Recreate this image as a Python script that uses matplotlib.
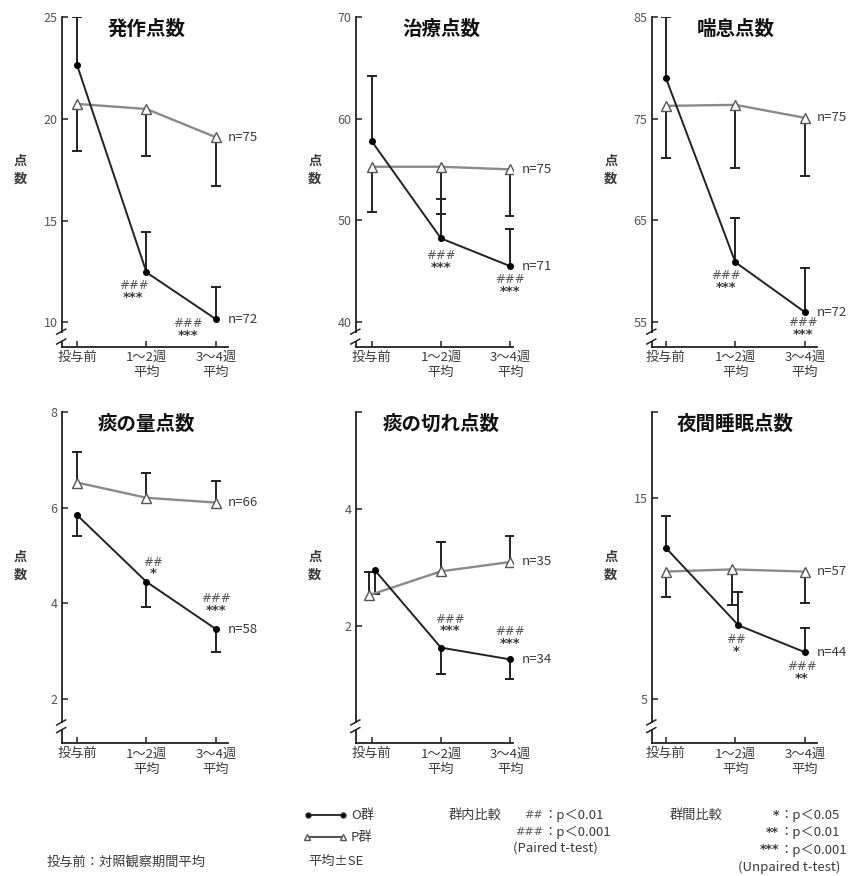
import matplotlib
matplotlib.use("Agg")
import matplotlib.pyplot as plt
from matplotlib.lines import Line2D

plt.rcParams['font.family'] = ['Noto Sans CJK JP', 'DejaVu Sans']

W, H = 855, 876

# --- data ---
categories = ["投与前", "1～2週\n平均", "3～4週\n平均"]
titles = ["発作点数", "治療点数", "喘息点数", "痰の量点数", "痰の切れ点数", "夜間睡眠点数"]

hossa_o = [22.66, 12.46, 10.16]
hossa_o_se = [2.34, 1.97, 1.59]
hossa_p = [20.74, 20.49, 19.10]
hossa_p_se = [2.30, 2.33, 2.41]

chiryo_o = [57.78, 48.20, 45.46]
chiryo_o_se = [6.47, 3.92, 3.66]
chiryo_p = [55.26, 55.26, 55.00]
chiryo_p_se = [4.51, 4.67, 4.64]

zensoku_o = [79.05, 60.85, 55.92]
zensoku_o_se = [5.95, 4.33, 4.40]
zensoku_p = [76.26, 76.36, 75.08]
zensoku_p_se = [5.13, 6.18, 5.69]

tan_ryo_o = [5.85, 4.45, 3.46]
tan_ryo_o_se = [0.45, 0.53, 0.47]
tan_ryo_p = [6.53, 6.21, 6.11]
tan_ryo_p_se = [0.63, 0.51, 0.45]

tan_kire_o = [2.95, 1.63, 1.43]
tan_kire_o_se = [0.40, 0.45, 0.34]
tan_kire_p = [2.52, 2.93, 3.09]
tan_kire_p_se = [0.40, 0.50, 0.44]

yakan_o = [12.54, 8.67, 7.33]
yakan_o_se = [1.58, 1.65, 1.19]
yakan_p = [11.35, 11.46, 11.35]
yakan_p_se = [1.28, 1.78, 1.58]

n_o = [72, 71, 72, 58, 34, 44]
n_p = [75, 75, 75, 66, 35, 57]

sig_within = [["", "###", "###"], ["", "###", "###"], ["", "###", "###"],
              ["", "##", "###"], ["", "###", "###"], ["", "##", "###"]]
sig_between = [["", "***", "***"], ["", "***", "***"], ["", "***", "***"],
               ["", "*", "***"], ["", "***", "***"], ["", "*", "**"]]

yticks = [[10, 15, 20, 25], [40, 50, 60, 70], [55, 65, 75, 85],
          [2, 4, 6, 8], [2, 4], [5, 15]]

series_o = [hossa_o, chiryo_o, zensoku_o, tan_ryo_o, tan_kire_o, yakan_o]
series_o_se = [hossa_o_se, chiryo_o_se, zensoku_o_se, tan_ryo_o_se, tan_kire_o_se, yakan_o_se]
series_p = [hossa_p, chiryo_p, zensoku_p, tan_ryo_p, tan_kire_p, yakan_p]
series_p_se = [hossa_p_se, chiryo_p_se, zensoku_p_se, tan_ryo_p_se, tan_kire_p_se, yakan_p_se]

# --- layout (pixels of the 855x876 canvas) ---
col_left = [61.7, 355.8, 651.8]
col_width = [166.1, 157.1, 165.0]
col_xlim = [(-0.22, 2.17), (-0.23, 2.04), (-0.20, 2.17)]
row_top = [17.2, 412.3]
row_bottom = [346.5, 743.3]
ylims = [(8.82, 25), (37.54, 70), (52.54, 85), (1.07, 8), (0, 5.64), (2.79, 19.29)]
breaks = [(0.045, 0.015), (0.063, 0.04)]
o_up = [True, True, True, False, False, True]
dodge = [[0, 0, 0], [0, 0, 0], [0, 0, 0], [0, 0, 0], [0.045, 0, 0], [0, 0.045, 0]]
sig_offsets = [
    [None, (-13, -19), (-28, -10)],
    [None, (0, -23), (0, -19)],
    [None, (-9, -19), (-2, -16)],
    [None, (7, 14), (0, 25)],
    [None, (9, 23), (0, 22)],
    [None, (-2, -20), (-3, -20)],
]

DARK = "#222222"
GREY = "#8a8a8a"
TXT = "#3a3a3a"


def fx(x):
    return x / W


def fy(y):
    return 1 - y / H


def one_sided_bars(ax, xs, ys, ses, up):
    for x, y, s in zip(xs, ys, ses):
        end = y + s if up else y - s
        ax.plot([x, x], [y, end], color=DARK, lw=1.4, zorder=2)
        ax.plot([x], [end], marker="_", ms=7, mew=1.4, color=DARK, zorder=2)


fig = plt.figure(figsize=(W / 100, H / 100), dpi=100)

for i in range(6):
    r, c = divmod(i, 3)
    top, bot = row_top[r], row_bottom[r]
    rect = [fx(col_left[c]), fy(bot), col_width[c] / W, (bot - top) / H]
    ax = fig.add_axes(rect)
    ax.set_xlim(*col_xlim[c])
    ax.set_ylim(*ylims[i])

    xs = range(len(categories))
    xo = [x + d for x, d in zip(xs, dodge[i])]
    xp = [x - d for x, d in zip(xs, dodge[i])]

    # error bars first, lines and markers on top
    one_sided_bars(ax, xo, series_o[i], series_o_se[i], o_up[i])
    one_sided_bars(ax, xp, series_p[i], series_p_se[i], not o_up[i])
    ax.plot(xp, series_p[i], color=GREY, lw=1.7, zorder=3)
    ax.plot(xp, series_p[i], ls="none", marker="^", ms=6.5, mfc="white",
            mec="#555555", mew=1.0, zorder=4)
    ax.plot(xo, series_o[i], color=DARK, lw=1.4, marker="o", ms=4,
            mfc="black", mec="black", zorder=5)

    # n labels
    ax.annotate(f"n={n_p[i]}", xy=(2, series_p[i][2]), xytext=(12, 0),
                textcoords="offset pixels", ha="left", va="center",
                fontsize=9.5, color=TXT)
    ax.annotate(f"n={n_o[i]}", xy=(2, series_o[i][2]), xytext=(12, 0),
                textcoords="offset pixels", ha="left", va="center",
                fontsize=9.5, color=TXT)

    # significance marks
    for k in range(3):
        if not sig_within[i][k]:
            continue
        dx, dy = sig_offsets[i][k]
        ax.annotate(sig_within[i][k], xy=(xo[k], series_o[i][k]),
                    xytext=(dx, dy + 5.5), textcoords="offset pixels",
                    ha="center", va="center", fontsize=8.5, color="#555555",
                    family="DejaVu Sans", style="italic")
        ax.annotate(sig_between[i][k], xy=(xo[k], series_o[i][k]),
                    xytext=(dx, dy - 6), textcoords="offset pixels",
                    ha="center", va="center", fontsize=9.5, color="#3a3a3a",
                    family="DejaVu Sans", weight="bold")

    # axes styling: bottom spine + broken left spine
    for s in ["top", "right", "left"]:
        ax.spines[s].set_visible(False)
    ax.spines["bottom"].set_linewidth(1.3)
    ax.spines["bottom"].set_color(DARK)
    hi, lo = breaks[r]
    ax.plot([0, 0], [hi, 1], transform=ax.transAxes, color=DARK, lw=1.3, clip_on=False)
    ax.plot([0, 0], [0, lo], transform=ax.transAxes, color=DARK, lw=1.3, clip_on=False)
    wpx, hpx = col_width[c], bot - top
    for yb in (hi, lo):
        ax.plot([-5 / wpx, 4 / wpx], [yb - 2.5 / hpx, yb + 2.5 / hpx],
                transform=ax.transAxes, color=DARK, lw=1.1, clip_on=False)

    ticks = list(yticks[i])
    labels = [str(t) for t in ticks]
    if ylims[i][1] > ticks[-1]:
        ticks.append(ylims[i][1])
        labels.append("")
    ax.set_yticks(ticks)
    ax.set_yticklabels(labels)
    ax.set_xticks(list(xs))
    ax.set_xticklabels(categories, linespacing=1.25)
    ax.tick_params(direction="in", length=4, width=1.1, color=DARK)
    ax.tick_params(axis="y", labelsize=9, labelcolor="#555555", pad=3)
    ax.tick_params(axis="x", labelsize=9.5, labelcolor=TXT, pad=3)

    ax.text(1, 0.965, titles[i], transform=ax.get_xaxis_transform(),
            ha="center", va="center", fontsize=14, weight="bold", color="#111111")
    ax.annotate("点\n数", xy=(0, 0.536), xycoords="axes fraction",
                xytext=(-41, 0), textcoords="offset pixels", ha="center",
                va="center", fontsize=9.5, weight="bold", color=TXT, linespacing=1.3)

# --- legend block ---
fig.add_artist(Line2D([fx(308), fx(343)], [fy(815), fy(815)], color=DARK, lw=1.3,
                      marker="o", ms=3.5, mfc="black"))
fig.add_artist(Line2D([fx(307), fx(343)], [fy(837), fy(837)], color="#555555", lw=1.5,
                      marker="^", ms=5, mfc="white", mec="#555555"))
fs = 9.5
fig.text(fx(351), fy(815), "O群", ha="left", va="center", fontsize=fs, color=TXT)
fig.text(fx(351), fy(837), "P群", ha="left", va="center", fontsize=fs, color=TXT)
fig.text(fx(308), fy(861.7), "平均±SE", ha="left", va="center", fontsize=fs, color=TXT)
fig.text(fx(46.7), fy(861.7), "投与前：対照観察期間平均", ha="left", va="center",
         fontsize=fs, color=TXT)

fig.text(fx(448.3), fy(815), "群内比較", ha="left", va="center", fontsize=fs, color=TXT)
for sym, p, yy in [("##", "p＜0.01", 815), ("###", "p＜0.001", 832.3)]:
    fig.text(fx(543), fy(yy), sym, ha="right", va="center", fontsize=8,
             color="#555555", family="DejaVu Sans", style="italic")
    fig.text(fx(543), fy(yy), "：" + p, ha="left", va="center", fontsize=fs, color=TXT)
fig.text(fx(513.3), fy(848.3), "(Paired t-test)", ha="left", va="center", fontsize=fs, color=TXT)

fig.text(fx(670), fy(815), "群間比較", ha="left", va="center", fontsize=fs, color=TXT)
for sym, p, yy in [("*", "p＜0.05", 815), ("**", "p＜0.01", 832.3), ("***", "p＜0.001", 850)]:
    fig.text(fx(779), fy(yy), sym, ha="right", va="center", fontsize=9,
             color="#3a3a3a", family="DejaVu Sans", weight="bold")
    fig.text(fx(779), fy(yy), "：" + p, ha="left", va="center", fontsize=fs, color=TXT)
fig.text(fx(738), fy(867.7), "(Unpaired t-test)", ha="left", va="center", fontsize=fs, color=TXT)

fig.savefig("out.png", dpi=100)
